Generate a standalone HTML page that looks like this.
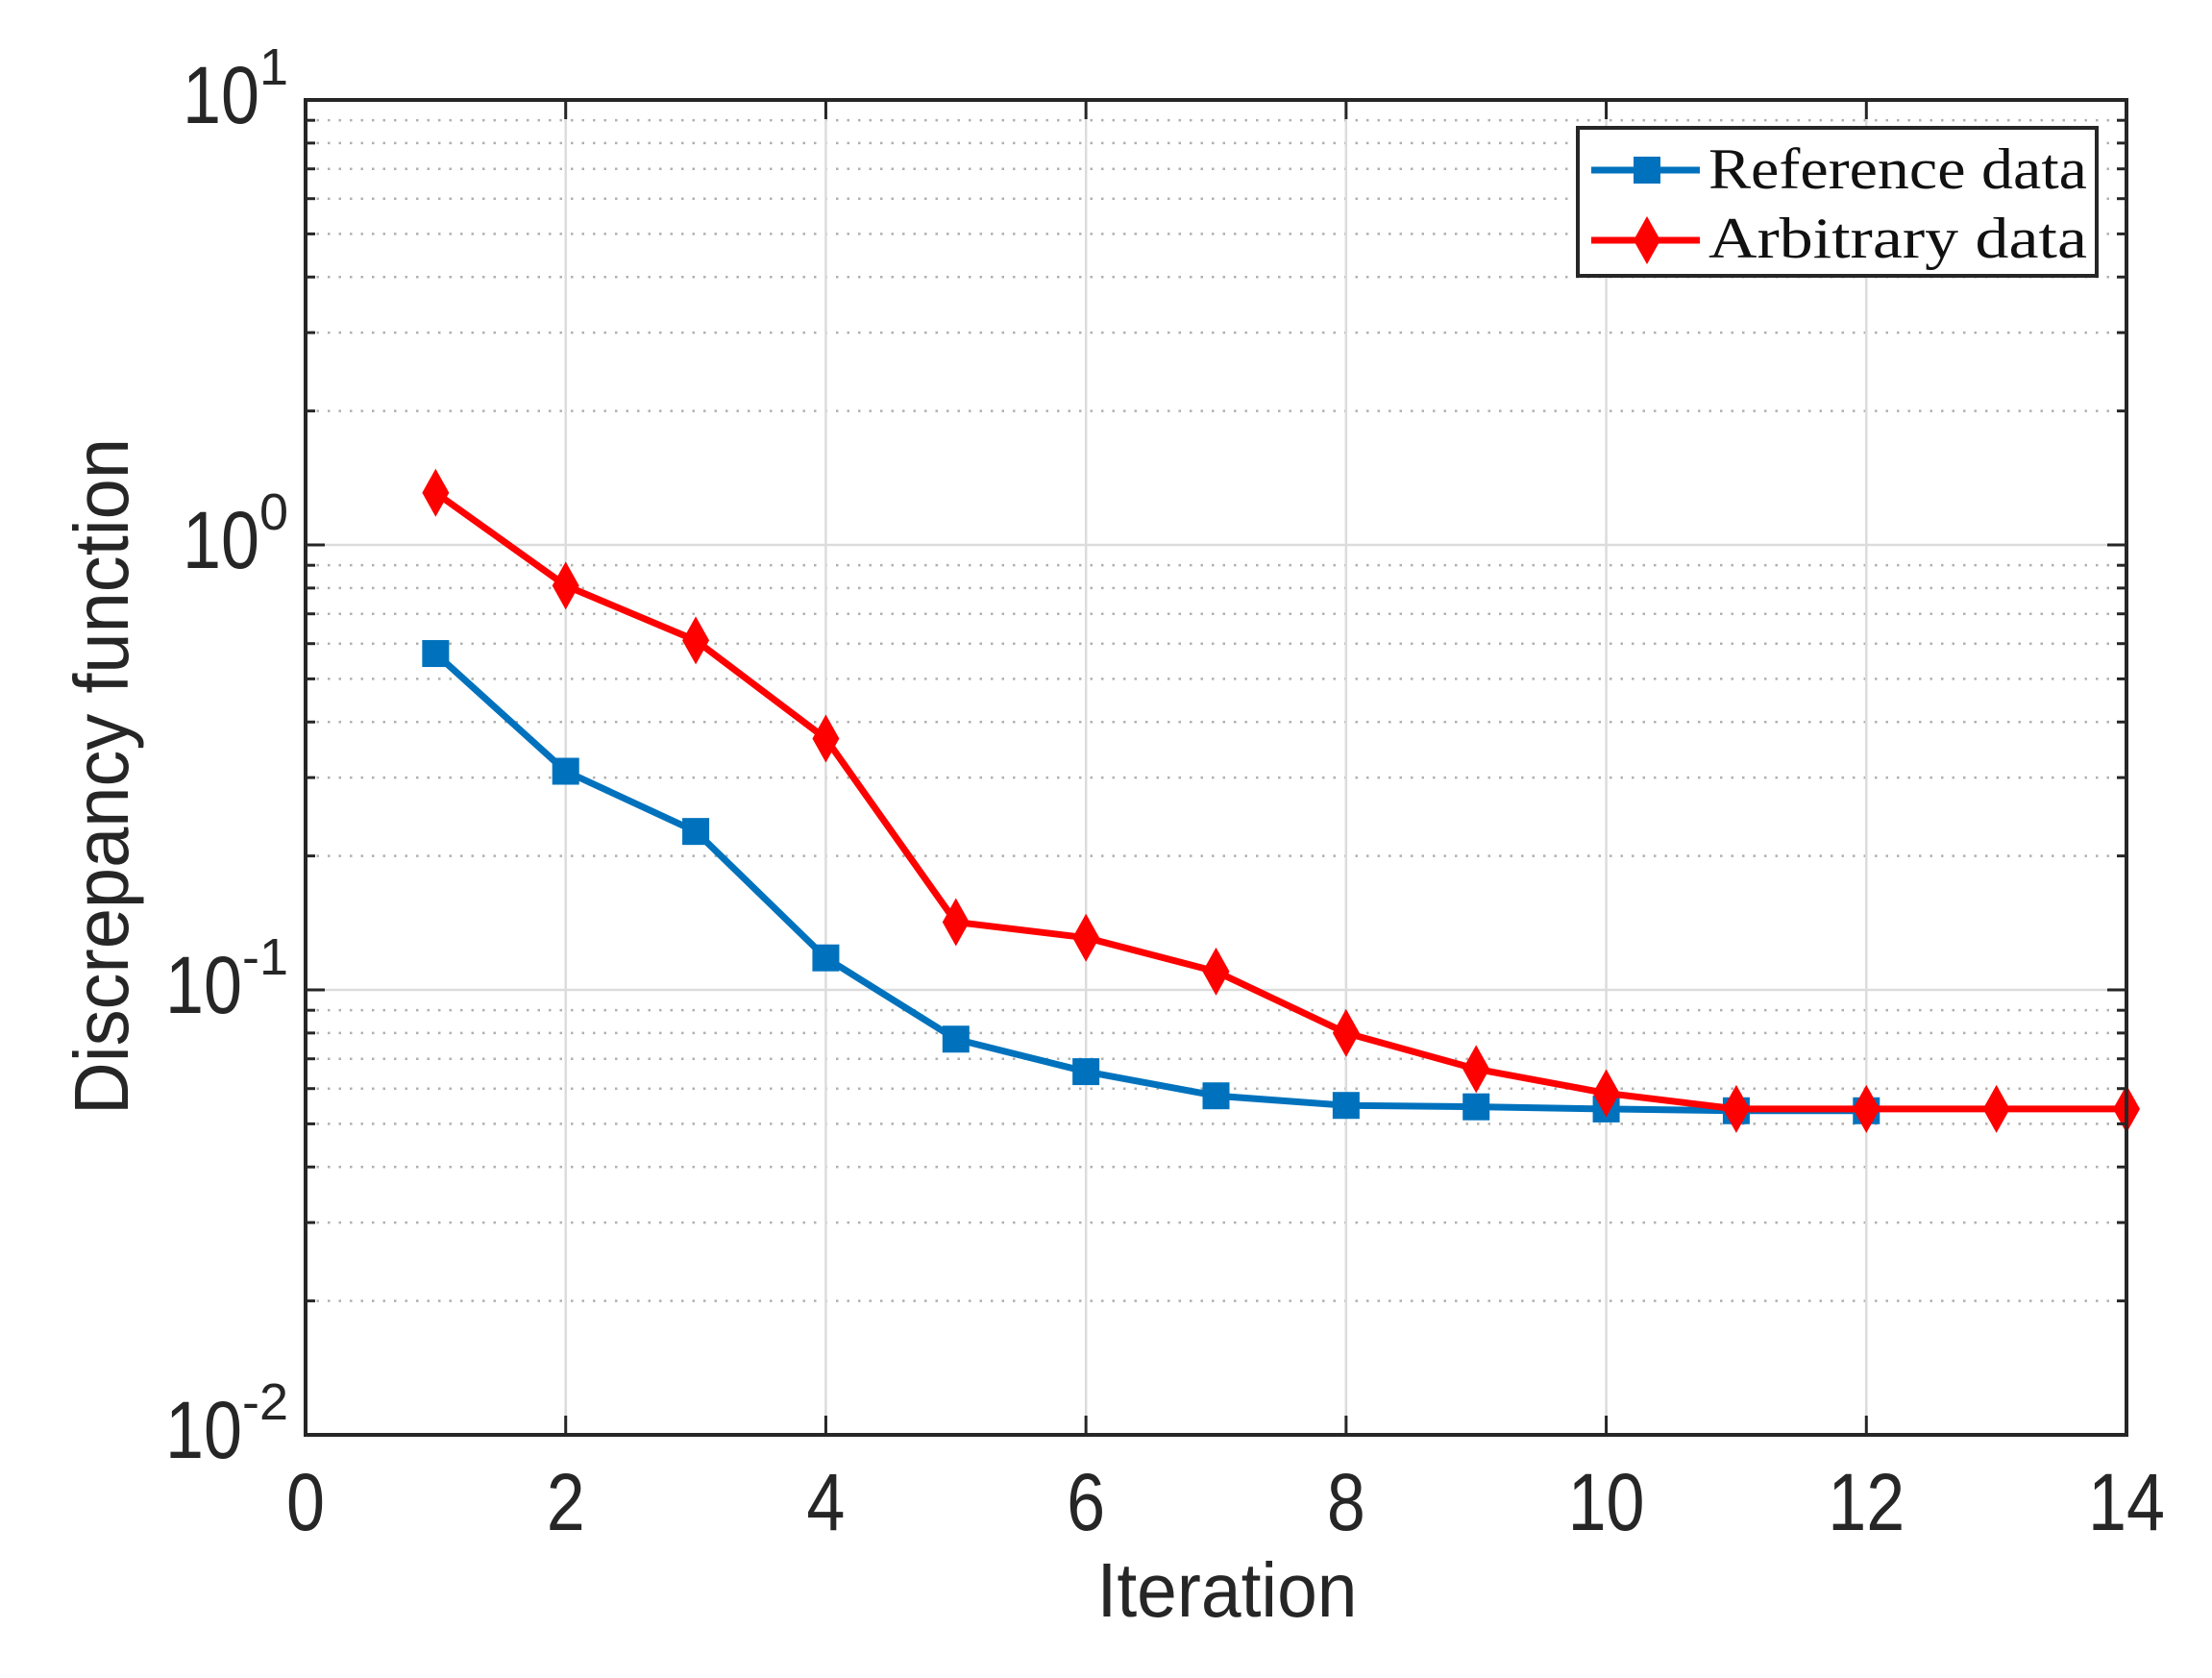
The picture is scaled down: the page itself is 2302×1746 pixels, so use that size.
<!DOCTYPE html>
<html><head><meta charset="utf-8"><style>
html,body{margin:0;padding:0;background:#fff;}
svg{display:block;}
</style></head><body>
<svg id="chart" width="2302" height="1746" viewBox="0 0 2302 1746" xmlns="http://www.w3.org/2000/svg">
<g id="grid"></g>
<g id="series"></g>
<g id="axes"></g>
<text x="1277" y="1682" font-family="Liberation Sans, sans-serif" font-size="80" text-anchor="middle" fill="#262626" textLength="271" lengthAdjust="spacingAndGlyphs">Iteration</text>
<text x="0" y="0" font-family="Liberation Sans, sans-serif" font-size="80" text-anchor="middle" fill="#262626" textLength="704" lengthAdjust="spacingAndGlyphs" transform="translate(133 808) rotate(-90)">Discrepancy function</text>
<g>
<rect x="1642" y="133" width="540" height="154" fill="#fff" stroke="#262626" stroke-width="4"/>
<g>
<line x1="1656" y1="177" x2="1769" y2="177" stroke="#0072BD" stroke-width="7"/>
<rect x="1700" y="163" width="28" height="28" fill="#0072BD"/>
<text x="1778" y="196" font-family="Liberation Serif, serif" font-size="60" fill="#111" textLength="394" lengthAdjust="spacingAndGlyphs">Reference data</text>
</g>
<g>
<line x1="1656" y1="250" x2="1769" y2="250" stroke="#FF0000" stroke-width="7"/>
<polygon points="1714,225 1728,250 1714,275 1700,250" fill="#FF0000"/>
<text x="1778" y="268" font-family="Liberation Serif, serif" font-size="60" fill="#111" textLength="394" lengthAdjust="spacingAndGlyphs">Arbitrary data</text>
</g>
</g>
</svg>
<script>
const iterations = [1,2,3,4,5,6,7,8,9,10,11,12,13,14];
const referenceValues = [0.57,0.31,0.227,0.118,0.0775,0.0655,0.0578,0.055,0.0546,0.054,0.0535,0.0535];
const arbitraryValues = [1.31,0.81,0.61,0.367,0.142,0.131,0.110,0.080,0.0664,0.0586,0.054,0.054,0.054,0.054];
const xTicks = [0,2,4,6,8,10,12,14];
const yDecades = [-2,-1,0,1];

const NS = 'http://www.w3.org/2000/svg';
const L = 318, R = 2213, T = 104, B = 1493;
const xMin = 0, xMax = 14, yMinLog = -2, yMaxLog = 1;
function sx(v){ return L + (v - xMin) / (xMax - xMin) * (R - L); }
function sy(v){ return B - (Math.log10(v) - yMinLog) / (yMaxLog - yMinLog) * (B - T); }
function mk(tag, attrs, parent){
  const e = document.createElementNS(NS, tag);
  for (const k in attrs) e.setAttribute(k, attrs[k]);
  parent.appendChild(e); return e;
}
const grid = document.getElementById('grid');
const axes = document.getElementById('axes');
const series = document.getElementById('series');

for (let d = yMinLog; d < yMaxLog; d++) {
  for (let m = 2; m <= 9; m++) {
    const y = sy(m * Math.pow(10, d));
    const g = mk('line', {x1:L, x2:R, y1:y, y2:y, stroke:'#b0b0b0', 'stroke-width':2.5, 'stroke-dasharray':'2.5 9'}, grid);
    
    
    const t1 = mk('line', {x1:L, x2:L+10, y1:y, y2:y, stroke:'#262626', 'stroke-width':3}, axes);
    
    
    const t2 = mk('line', {x1:R-10, x2:R, y1:y, y2:y, stroke:'#262626', 'stroke-width':3}, axes);
    
    
  }
}
yDecades.forEach(d => {
  const y = sy(Math.pow(10, d));
  const g = mk('line', {x1:L, x2:R, y1:y, y2:y, stroke:'#dcdcdc', 'stroke-width':2.5}, grid);
  
  
  const t1 = mk('line', {x1:L, x2:L+20, y1:y, y2:y, stroke:'#262626', 'stroke-width':3}, axes);
  
  
  const t2 = mk('line', {x1:R-20, x2:R, y1:y, y2:y, stroke:'#262626', 'stroke-width':3}, axes);
  
  
  const tx = mk('text', {x:L-18, y:y+24, 'font-family':'Liberation Sans, sans-serif', 'font-size':84, 'text-anchor':'end', fill:'#262626'}, axes);
  
  
  const base = document.createElementNS(NS, 'tspan'); base.setAttribute('textLength', 80); base.setAttribute('lengthAdjust', 'spacingAndGlyphs'); base.textContent = '10'; tx.appendChild(base);
  const sup = document.createElementNS(NS, 'tspan'); sup.setAttribute('dy', -40); sup.setAttribute('font-size', 54); sup.textContent = String(d); tx.appendChild(sup);
});
xTicks.forEach(v => {
  const x = sx(v);
  const g = mk('line', {x1:x, x2:x, y1:T, y2:B, stroke:'#dcdcdc', 'stroke-width':2.5}, grid);
  
  
  const t1 = mk('line', {x1:x, x2:x, y1:B-20, y2:B, stroke:'#262626', 'stroke-width':3}, axes);
  
  
  const t2 = mk('line', {x1:x, x2:x, y1:T, y2:T+20, stroke:'#262626', 'stroke-width':3}, axes);
  
  
  const s = String(v);
  const tx = mk('text', {x:x, y:1592, 'font-family':'Liberation Sans, sans-serif', 'font-size':84, 'text-anchor':'middle', fill:'#262626', textLength: 40 * s.length, lengthAdjust:'spacingAndGlyphs'}, axes);
  
  
  tx.textContent = s;
});
const fr = mk('rect', {x:L, y:T, width:R-L, height:B-T, fill:'none', stroke:'#262626', 'stroke-width':4}, axes);



function drawSeries(vals, color, kind, name){
  const pts = vals.map((v,i) => sx(iterations[i]) + ',' + sy(v)).join(' ');
  const pl = mk('polyline', {points:pts, fill:'none', stroke:color, 'stroke-width':7, 'stroke-linejoin':'round'}, series);
  
  
  vals.forEach((v,i) => {
    const x = sx(iterations[i]), y = sy(v);
    let m;
    if (kind === 'square') m = mk('rect', {x:x-14, y:y-14, width:28, height:28, fill:color}, series);
    else m = mk('polygon', {points:`${x},${y-25} ${x+14},${y} ${x},${y+25} ${x-14},${y}`, fill:color}, series);
    
    
  });
}
drawSeries(referenceValues, '#0072BD', 'square', 'reference-data');
drawSeries(arbitraryValues, '#FF0000', 'diamond', 'arbitrary-data');
</script>
</body></html>
